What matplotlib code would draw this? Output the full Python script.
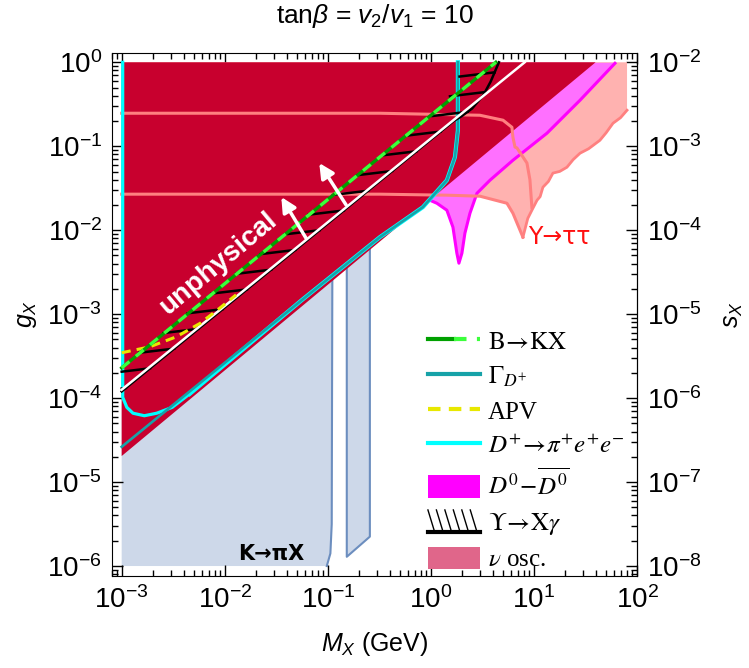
import numpy as np
import matplotlib
matplotlib.use("Agg")
import matplotlib.pyplot as plt
from matplotlib.lines import Line2D
from matplotlib.patches import Patch
from matplotlib.legend_handler import HandlerBase, HandlerTuple
from matplotlib.font_manager import FontProperties

plt.rcParams["font.family"] = ["Liberation Sans", "DejaVu Sans"]
plt.rcParams["mathtext.fontset"] = "custom"
plt.rcParams["mathtext.rm"] = "Liberation Sans"
plt.rcParams["mathtext.it"] = "Liberation Sans:italic"
plt.rcParams["mathtext.bf"] = "Liberation Sans:bold"

# -----------------------------
# DATA (log10 values)
# -----------------------------
# nu osc. (crimson) region: lower-right edge
crimson_logm = [-3.0, 1.598]
crimson_logg = [-4.69, 0.0]

# K -> pi X (light blue) two pieces
kpi1_logm = [-3.0, -1.01, -0.975, -0.962, -0.955]
kpi1_logg = [-6.0, -6.0, -5.85, -5.5, -2.0]
kpi2_logm = [-0.816, -0.592]
kpi2_logg_bottom = [-5.89, -5.65]

# Upsilon -> tau tau
utt_low_logm = [-3.0, -0.495, 0.155, 0.476, 0.738, 0.796, 0.893]
utt_low_logg = [-1.571, -1.571, -1.583, -1.595, -1.679, -1.798, -2.083]
utt_up_logm = [-3.0, -0.495, 0.476, 0.70, 0.786, 0.796, 0.816, 0.835, 0.932, 0.961, 0.98]
utt_up_logg = [-0.607, -0.607, -0.631, -0.69, -0.774, -0.893, -1.01, -1.02, -1.20, -1.40, -1.73]
utt_edge_logm = [0.893, 0.94, 0.98, 1.03, 1.06, 1.087, 1.14, 1.184, 1.25, 1.32, 1.38, 1.447,
                 1.53, 1.64, 1.70, 1.767, 1.84, 1.903]
utt_edge_logg = [-2.083, -1.86, -1.762, -1.643, -1.60, -1.488, -1.42, -1.32, -1.30, -1.25, -1.16,
                 -1.083, -1.03, -0.929, -0.84, -0.726, -0.66, -0.571]

# D0 - D0bar mixing
dd_logm = [-0.3, -0.01, 0.058, 0.155, 0.214, 0.252, 0.272, 0.301, 0.330, 0.379, 0.447,
           0.573, 0.796, 1.126, 1.447, 1.786]
dd_logg = [-1.85, -1.643, -1.679, -1.762, -1.964, -2.274, -2.393, -2.274, -2.036, -1.798,
           -1.56, -1.405, -1.167, -0.845, -0.452, -0.012]

# Gamma_D+ (teal)
gd_logm = [-3.0, -1.25, -0.495, -0.078, 0.155, 0.233, 0.262, 0.262]
gd_logg = [-4.58, -2.83, -2.083, -1.726, -1.405, -1.131, -0.81, 0.0]

# D+ -> pi+ e+ e- (cyan)
dp_logm = [-2.99, -2.99, -2.95, -2.89, -2.78, -2.66, -2.51, -2.34]
dp_logg = [0.0, -3.99, -4.11, -4.18, -4.21, -4.18, -4.11, -3.95]

# unphysical boundary (white), B -> K X (green), APV (yellow)
unphys_logm = [-3.0, 0.91]
unphys_logg = [-3.9, 0.0]
bkx_logm = [-3.0, 0.63]
bkx_logg = [-3.64, 0.0]
apv_logm = [-3.0, -2.73, -2.47, -2.24, -2.05, -1.89]
apv_logg = [-3.46, -3.39, -3.27, -3.11, -2.93, -2.77]

# Upsilon -> X gamma boundary
uxg_logm = [-3.0, 0.22, 0.30, 0.40, 0.51, 0.58, 0.66]
uxg_logg = [-3.92, -0.70, -0.64, -0.55, -0.39, -0.23, 0.0]

# arrows: (tail logm, tail logg, head logm, head logg)
arrow1 = [-1.209, -2.10, -1.451, -1.605]
arrow2 = [-0.822, -1.70, -1.083, -1.20]


def p(v):
    return 10.0 ** np.asarray(v, dtype=float)


# -----------------------------
# FIGURE
# -----------------------------
fig = plt.figure(figsize=(7.49, 6.68), dpi=100)
ax = fig.add_axes([0.1491, 0.1377, 0.8505 - 0.1491, 0.9211 - 0.1377])
ax.set_xscale("log")
ax.set_yscale("log")
ax.set_xlim(10 ** -3.097, 10 ** 2.0)
ax.set_ylim(10 ** -6.119, 10 ** 0.114)

C_CRIMSON = "#C8002E"
C_BLUE = "#CDD8E9"
C_BLUE_EDGE = "#6C8EBF"
C_PINK = "#FFB2B0"
C_SALMON = "#FF8080"
C_MAG_FILL = "#FF70FF"
C_MAG = "#FF00FF"
C_TEAL = "#17A2A8"
C_CYAN = "#00FFFF"
C_GREEN_D = "#00A000"
C_GREEN_L = "#3CFF3C"
C_YELLOW = "#E8E800"

# K -> pi X
k1x = p(kpi1_logm + [-3.0])
k1y = p(kpi1_logg + [-2.0])
ax.fill(k1x, k1y, color=C_BLUE, lw=0, zorder=1)
ax.plot(p(kpi1_logm[1:]), p(kpi1_logg[1:]), color=C_BLUE_EDGE, lw=1.5, zorder=1.5)
k2x = p([kpi2_logm[0], kpi2_logm[1], kpi2_logm[1], kpi2_logm[0], kpi2_logm[0]])
k2y = p([kpi2_logg_bottom[0], kpi2_logg_bottom[1], -2.0, -2.0, kpi2_logg_bottom[0]])
ax.fill(k2x, k2y, color=C_BLUE, lw=0, zorder=1)
ax.plot(k2x[[3, 0, 1, 2]], k2y[[3, 0, 1, 2]], color=C_BLUE_EDGE, lw=1.5, zorder=1.5)

# Upsilon -> tau tau fill
utt_x = p(utt_low_logm[:-1] + utt_edge_logm + [utt_edge_logm[-1], -3.0])
utt_y = p(utt_low_logg[:-1] + utt_edge_logg + [0.0, 0.0])
ax.fill(utt_x, utt_y, color=C_PINK, lw=0, zorder=2)
ax.plot(p(utt_edge_logm), p(utt_edge_logg), color=C_SALMON, lw=2.0, zorder=2.5)

# D0 - D0bar
ax.fill_between(p(dd_logm), p(dd_logg), 1.0, color=C_MAG_FILL, lw=0, zorder=3)
ax.plot(p(dd_logm[1:]), p(dd_logg[1:]), color=C_MAG, lw=2.2, zorder=3.5)

# crimson region
cx = p(crimson_logm + [-3.0])
cy = p(crimson_logg + [0.0])
ax.fill(cx, cy, color=C_CRIMSON, lw=0, zorder=4)

# Upsilon -> tau tau outlines
ax.plot(p(utt_low_logm), p(utt_low_logg), color=C_SALMON, lw=2.2, zorder=5)
ax.plot(p(utt_up_logm), p(utt_up_logg), color=C_SALMON, lw=2.2, zorder=5)

# cyan + teal
ax.plot(p(dp_logm), p(dp_logg), color=C_CYAN, lw=2.3, zorder=6)
merge_m = [m for m in gd_logm if m > -2.3]
merge_g = [g for m, g in zip(gd_logm, gd_logg) if m > -2.3]
ax.plot(p([dp_logm[-1]] + merge_m), p([dp_logg[-1]] + merge_g), color=C_CYAN, lw=3.0, zorder=6)
ax.plot(p(gd_logm), p(gd_logg), color=C_TEAL, lw=1.9, zorder=6.5)

# Upsilon -> X gamma boundary and hatches
ax.plot(p(uxg_logm), p(uxg_logg), color="black", lw=1.8, zorder=6.8)
for hy in np.arange(-3.88, -0.05, 0.235):
    hx = np.interp(hy, uxg_logg, uxg_logm)
    x0, y0 = hx - 0.34, hy - 0.05
    if x0 < -3.0:
        y0 = hy - 0.05 * (hx + 3.0) / 0.34
        x0 = -3.0
    ax.plot(p([x0, hx]), p([y0, hy]), color="black", lw=1.8, zorder=6.8)

# white unphysical line
ax.plot(p(unphys_logm), p(unphys_logg), color="white", lw=1.8, zorder=7)

# APV
ax.plot(p(apv_logm), p(apv_logg), color=C_YELLOW, lw=2.2, dashes=(3, 2), zorder=7.2)

# B -> K X
ax.plot(p(bkx_logm), p(bkx_logg), color=C_GREEN_D, lw=2.4, zorder=8)
ax.plot(p(bkx_logm), p(bkx_logg), color=C_GREEN_L, lw=2.4, dashes=(3, 2.5), zorder=8.1)

# arrows + text
for a in (arrow1, arrow2):
    ax.annotate("", xy=(10 ** a[2], 10 ** a[3]), xytext=(10 ** a[0], 10 ** a[1]),
                arrowprops=dict(arrowstyle="-|>", color="white", lw=2.5, mutation_scale=22,
                                shrinkA=0, shrinkB=0), zorder=9)

ax.text(10 ** -2.06, 10 ** -2.40, "unphysical", color="white", fontsize=20, fontweight="bold",
        rotation=40, ha="center", va="center", zorder=9)
ax.text(10 ** -1.55, 10 ** -5.86, "K→πX", color="black", fontsize=15, fontweight="bold",
        family="DejaVu Sans", ha="center", va="center", zorder=9)
ax.text(10 ** 1.25, 10 ** -2.08, "Υ→ττ", color="#FF1010", fontsize=17, family="DejaVu Sans",
        ha="center", va="center", zorder=9)

# -----------------------------
# AXES STYLE
# -----------------------------
ax.tick_params(which="both", direction="in", top=True, right=False, labelsize=20,
               width=1, pad=7)
ax.tick_params(which="major", length=8)
ax.tick_params(which="minor", length=4)
ax.set_xticks(p([-3, -2, -1, 0, 1, 2]))
ax.set_yticks(p([-6, -5, -4, -3, -2, -1, 0]))

sec = ax.secondary_yaxis("right", functions=(lambda g: g * 1e-2, lambda s: s * 1e2))
sec.set_yticks(p([-8, -7, -6, -5, -4, -3, -2]))
sec.tick_params(which="both", direction="in", labelsize=20, width=1, pad=7)
sec.tick_params(which="major", length=8)
sec.tick_params(which="minor", length=4)
sec.set_ylabel("$s_X$", fontsize=18, labelpad=14)

ax.set_xlabel("$M_X$ (GeV)", fontsize=18, labelpad=12)
ax.set_ylabel("$g_X$", fontsize=18, labelpad=6)

fig.text(0.5007, 1 - 16 / 668, r"tan$\beta$ = $v_2$/$v_1$ = 10", fontsize=19,
         ha="center", va="center")

# -----------------------------
# LEGEND
# -----------------------------
class HatchHandle:
    pass


class HatchHandler(HandlerBase):
    def create_artists(self, legend, orig_handle, xdescent, ydescent, width, height,
                       fontsize, trans):
        x0, y0 = -xdescent, -ydescent
        arts = [Line2D([x0, x0 + width], [y0, y0], color="black", lw=3, transform=trans)]
        for i in range(6):
            xs = x0 + i * width / 6.2
            arts.append(Line2D([xs, xs + width * 0.13], [y0 + height, y0], color="black",
                               lw=1, transform=trans))
        return arts


h_bkx = (Line2D([], [], color=C_GREEN_D, lw=3),
         Line2D([], [], color=C_GREEN_L, lw=3, dashes=(3, 2.5)))
handles = [
    h_bkx,
    Line2D([], [], color=C_TEAL, lw=3),
    Line2D([], [], color=C_YELLOW, lw=3, dashes=(3, 2)),
    Line2D([], [], color=C_CYAN, lw=3),
    Patch(facecolor=C_MAG, edgecolor="none"),
    HatchHandle(),
    Patch(facecolor="#E0668A", edgecolor="none"),
]
labels = [
    r"$\mathrm{B}\!\rightarrow\!\mathrm{KX}$",
    r"$\Gamma_{D^{+}}$",
    "APV",
    r"$D^{+}\!\rightarrow\!\pi^{+}e^{+}e^{-}$",
    r"$D^{0}\!-\!\overline{D^{0}}$",
    r"$\Upsilon\!\rightarrow\!\mathrm{X}\gamma$",
    r"$\nu$ osc.",
]
leg_font = FontProperties(family=["Liberation Serif", "DejaVu Serif"], size=18,
                          math_fontfamily="stix")
ax.legend(handles, labels, prop=leg_font, loc="upper left",
          bbox_to_anchor=(0.602, 0.472), frameon=False, borderpad=0, borderaxespad=0,
          handlelength=2.1, handleheight=1.0, handletextpad=0.3, labelspacing=0.4,
          handler_map={tuple: HandlerTuple(ndivide=None, pad=0), HatchHandle: HatchHandler()})

fig.savefig("out.png", dpi=100)
